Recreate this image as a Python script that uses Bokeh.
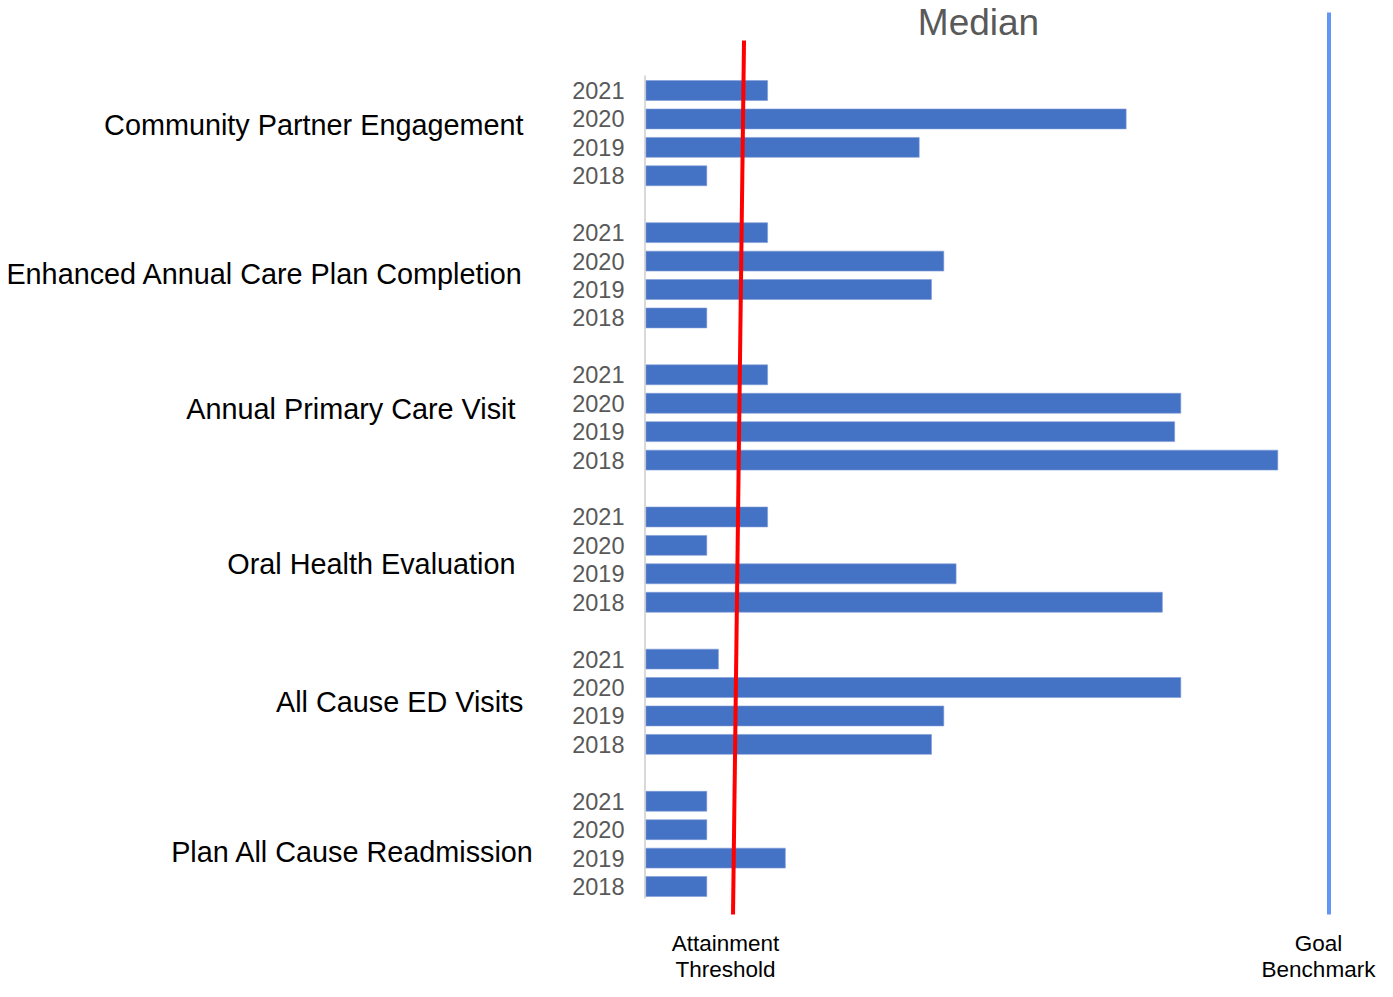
from bokeh.plotting import figure
from bokeh.models import Range1d, ColumnDataSource
from bokeh.core.properties import value
from bokeh.embed import file_html
from bokeh.resources import INLINE

# ---------------- data ----------------
categories = [
    "Community Partner Engagement",
    "Enhanced Annual Care Plan Completion",
    "Annual Primary Care Visit",
    "Oral Health Evaluation",
    "All Cause ED Visits",
    "Plan All Cause Readmission",
]
years = ["2021", "2020", "2019", "2018"]

# bar values, per category in the order of `years` (scale: goal benchmark = 100)
cpe_vals = [17.8, 70.3, 40.0, 8.9]
eacpc_vals = [17.8, 43.6, 41.8, 8.9]
apcv_vals = [17.8, 78.3, 77.4, 92.5]
ohe_vals = [17.8, 8.9, 45.4, 75.6]
aced_vals = [10.6, 78.3, 43.6, 41.8]
pacr_vals = [8.9, 8.9, 20.4, 8.9]
series = [cpe_vals, eacpc_vals, apcv_vals, ohe_vals, aced_vals, pacr_vals]

# reference lines
threshold_x = [14.35, 12.74]     # attainment threshold (slightly slanted line, top -> bottom)
goal_x = 100.0                   # goal benchmark

# ---------------- layout (positions only) ----------------
GROUP = 5  # 4 bars + 1 gap slot
slots, rights, ylabels = [], [], []
for g, vals in enumerate(series):
    for j, v in enumerate(vals):
        slots.append(GROUP * g + j)
        rights.append(v)
        ylabels.append(years[j])

src = ColumnDataSource(dict(y=slots, right=rights, year=ylabels))

p = figure(
    width=1377, height=981,
    x_range=Range1d(-94.51, 107.10),
    y_range=Range1d(31.34, -3.166),
    output_backend="svg", toolbar_location=None,
    x_axis_location=None, y_axis_location=None,
    min_border=0,
)
p.grid.visible = False
p.outline_line_color = None
p.background_fill_color = "white"
p.border_fill_color = "white"

FONT = value("Liberation Sans")

# category axis line
p.segment(x0=[-0.15], y0=[-0.53], x1=[-0.15], y1=[28.42], line_color="#D9D9D9", line_width=2)

# bars
p.hbar(y="y", left=0, right="right", height=0.70, source=src,
       fill_color="#4472C4", line_color="#7F9BD6", line_width=0.6)

# year tick labels
p.text(x=-3.15, y="y", text="year", source=src, text_align="right", text_baseline="middle",
       text_font=FONT, text_font_size="23.5px", text_color="#595959")

# category labels (placed individually, as in the reference)
cat_x = [-17.94, -17.94, -19.11, -19.11, -17.94, -16.33]
cat_y = [1.23, 6.44, 11.22, 16.64, 21.52, 26.80]
p.text(x=cat_x, y=cat_y, text=categories, text_align="right", text_baseline="middle",
       text_font=FONT, text_font_size="28.8px", text_color="#000000")

# attainment threshold line (red) and goal benchmark line (blue)
p.line(x=threshold_x, y=[-1.76, 28.98], line_color="#FF0000", line_width=4)
p.line(x=[goal_x, goal_x], y=[-2.74, 28.98], line_color="#6496F5", line_width=4)

# title
p.text(x=[48.68], y=[-2.39], text=["Median"], text_align="center", text_baseline="middle",
       text_font=FONT, text_font_size="37px", text_color="#595959")

# bottom labels
p.text(x=[11.64, 11.64], y=[30.0, 30.92], text=["Attainment", "Threshold"],
       text_align="center", text_baseline="middle",
       text_font=FONT, text_font_size="22.5px", text_color="#000000")
p.text(x=[98.46, 98.46], y=[30.0, 30.92], text=["Goal", "Benchmark"],
       text_align="center", text_baseline="middle",
       text_font=FONT, text_font_size="22.5px", text_color="#000000")

open("out.html", "w").write(file_html(p, INLINE))
